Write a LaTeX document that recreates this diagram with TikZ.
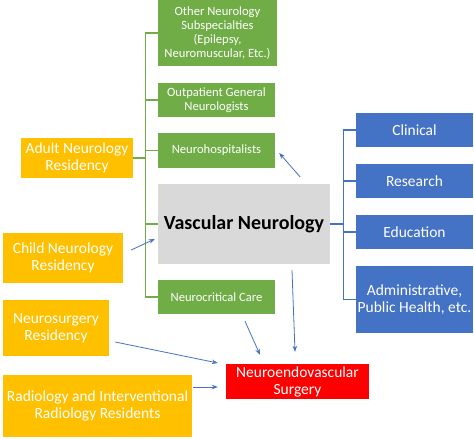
\documentclass[tikz,border=0pt]{standalone}
\usepackage{fontspec}
\setmainfont{Carlito}
\usetikzlibrary{arrows.meta}
\definecolor{cgreen}{HTML}{70AD47}
\definecolor{corange}{HTML}{FFC000}
\definecolor{cblue}{HTML}{4472C4}
\definecolor{cgray}{HTML}{D9D9D9}
\definecolor{cred}{HTML}{FF0000}
\tikzset{
  bx/.style 2 args={rectangle, inner sep=1pt, align=center, minimum width=#1pt, minimum height=#2pt},
  greenbox/.style={fill=cgreen, text=white, font=\fontsize{12.6}{14}\selectfont},
  orangebox/.style={fill=corange, text=white, font=\fontsize{15.5}{17}\selectfont},
  bluebox/.style={fill=cblue, text=white, font=\fontsize{15.5}{17}\selectfont},
  redbox/.style={fill=cred, text=white, font=\fontsize{15.5}{17}\selectfont},
  graybox/.style={fill=cgray, text=black, font=\fontsize{20}{22}\selectfont\bfseries},
  gline/.style={draw=cgreen, line width=1.3pt},
  bline/.style={draw=cblue, line width=1.3pt},
  arr/.style={draw=cblue, line width=0.8pt, -{Stealth[length=6pt,width=4.5pt]}}
}
\begin{document}
\begin{tikzpicture}[x=1pt,y=-1pt]
\useasboundingbox[fill=white] (0,0) rectangle (474,439);
% green column
\node[bx={119}{66}, greenbox] (other) at (217.5,33) {Other Neurology\\Subspecialties\\(Epilepsy,\\Neuromuscular, Etc.)};
\node[bx={117}{34}, greenbox] (outp) at (216.5,100) {Outpatient General\\Neurologists};
\node[bx={117}{35}, greenbox] (hosp) at (216.5,150.5) {Neurohospitalists};
\node[bx={172}{80}, graybox] (vasc) at (244,224) {Vascular Neurology};
\node[bx={117}{34}, greenbox] (crit) at (216.5,297) {Neurocritical Care};
% orange
\node[bx={112}{40}, orangebox] (adult) at (77,158) {Adult Neurology\\Residency};
\node[bx={120}{50}, orangebox] (child) at (63,258) {Child Neurology\\Residency};
\node[bx={106}{56}, orangebox] (nsurg) at (56,328) {Neurosurgery\\Residency};
\node[bx={189}{62}, orangebox] (radio) at (97.5,406) {Radiology and Interventional\\Radiology Residents};
% red
\node[bx={143}{35}, redbox] (endo) at (297.5,381.5) {Neuroendovascular\\Surgery};
% blue
\node[bx={117}{34}, bluebox] (clin) at (414.5,130) {Clinical};
\node[bx={117}{34}, bluebox] (res) at (414.5,181) {Research};
\node[bx={117}{34}, bluebox] (edu) at (414.5,232) {Education};
\node[bx={117}{67}, bluebox] (admin) at (414.5,299.5) {Administrative,\\Public Health, etc.};
% green tree
\draw[gline] (other.west) -- ++(-12,0) |- (crit.west);
\draw[gline] (outp.west) -- ++(-12,0);
\draw[gline] (hosp.west) -- ++(-12,0);
\draw[gline] (vasc.west) -- ++(-12,0);
\draw[gline] (adult.east) -- ++(13,0);
% blue tree
\draw[bline] (clin.west) -- ++(-12,0) |- (admin.west);
\draw[bline] (res.west) -- ++(-12,0);
\draw[bline] (edu.west) -- ++(-12,0);
\draw[bline] (vasc.east) -- ++(14,0);
% arrows
\draw[arr] ([xshift=56pt,yshift=7pt]vasc.north) -- ([xshift=4pt,yshift=-2.5pt]hosp.east);
\draw[arr] ([xshift=8pt,yshift=8pt]child.east) -- ([xshift=-3pt,yshift=-15pt]vasc.west);
\draw[arr] ([xshift=6pt,yshift=-14pt]nsurg.east) -- ([xshift=-8pt,yshift=18.5pt]endo.west);
\draw[arr] ([xshift=1pt,yshift=19pt]radio.east) -- ([xshift=-8pt,yshift=-5.5pt]endo.west);
\draw[arr] ([xshift=28.5pt,yshift=-7pt]crit.south) -- ([xshift=-37.5pt,yshift=9pt]endo.north);
\draw[arr] ([xshift=48pt,yshift=-6pt]vasc.south) -- ([xshift=-2.5pt,yshift=12pt]endo.north);
\end{tikzpicture}
\end{document}
